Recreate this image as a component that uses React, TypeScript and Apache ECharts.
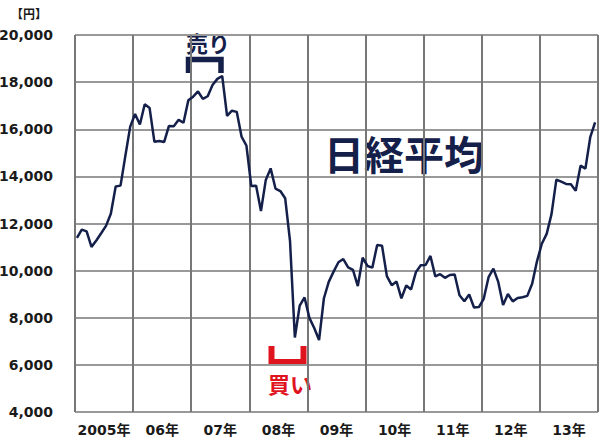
import React, { useRef, useEffect } from 'react';
import * as echarts from 'echarts';

// Year columns along the bottom
const YEAR_LABELS = ['2005年', '06年', '07年', '08年', '09年', '10年', '11年', '12年', '13年'];

// Nikkei 225, monthly, Jan 2005 .. Dec 2013
const NIKKEI_2005 = [11388, 11740, 11668, 11008, 11276, 11584, 11899, 12413, 13574, 13607, 14872, 16111];
const NIKKEI_2006 = [16650, 16205, 17060, 16906, 15467, 15505, 15457, 16141, 16128, 16399, 16274, 17226];
const NIKKEI_2007 = [17383, 17604, 17288, 17400, 17876, 18138, 18261, 16569, 16786, 16738, 15681, 15308];
const NIKKEI_2008 = [13592, 13604, 12526, 13850, 14339, 13482, 13377, 13073, 11260, 7162, 8512, 8860];
const NIKKEI_2009 = [7994, 7568, 7054, 8828, 9523, 9958, 10357, 10493, 10133, 10035, 9346, 10546];
const NIKKEI_2010 = [10198, 10126, 11090, 11057, 9769, 9383, 9537, 8824, 9369, 9202, 9937, 10229];
const NIKKEI_2011 = [10238, 10624, 9755, 9850, 9694, 9816, 9833, 8955, 8700, 8988, 8434, 8455];
const NIKKEI_2012 = [8803, 9723, 10084, 9521, 8543, 9007, 8695, 8840, 8870, 8928, 9446, 10395];
const NIKKEI_2013 = [11139, 11559, 12398, 13861, 13775, 13677, 13668, 13389, 14456, 14328, 15662, 16291];

const NIKKEI = [
  ...NIKKEI_2005, ...NIKKEI_2006, ...NIKKEI_2007,
  ...NIKKEI_2008, ...NIKKEI_2009, ...NIKKEI_2010,
  ...NIKKEI_2011, ...NIKKEI_2012, ...NIKKEI_2013,
];

const NAVY = '#14204a';
const RED = '#e0141e';
const GRID_GRAY = '#999999';
const VGRID_GRAY = '#777777';
const FONT = '"Noto Sans CJK JP", "Noto Sans", sans-serif';
const LABEL_FONT = '"DejaVu Sans", "Noto Sans CJK JP", sans-serif';

const App: React.FC = () => {
  const chartRef = useRef<HTMLDivElement>(null);

  useEffect(() => {
    if (!chartRef.current) return;
    const chart = echarts.init(chartRef.current, undefined, { renderer: 'svg' });

    // x in months since Jan 2005, plotted a bit inside each month slot
    const lineData = NIKKEI.map((v, i) => [i + 0.4, v]);

    const option: echarts.EChartsOption = {
      animation: false,
      backgroundColor: '#ffffff',
      textStyle: { fontFamily: FONT },
      grid: { left: 75, right: 2, top: 35, bottom: 29, outerBoundsMode: 'none' } as any,
      xAxis: [
        {
          // months since Jan 2005; split lines on year boundaries
          type: 'value',
          min: 0,
          max: 108,
          interval: 12,
          axisLabel: { show: false },
          axisTick: { show: false },
          axisLine: { show: false },
          splitLine: { show: true, lineStyle: { color: VGRID_GRAY, width: 2 } },
        },
        {
          // year columns, labels centred in each
          type: 'category',
          data: YEAR_LABELS,
          position: 'bottom',
          boundaryGap: true,
          axisLine: { show: false },
          axisTick: { show: false },
          splitLine: { show: false },
          axisLabel: {
            interval: 0,
            color: '#1a1a1a',
            fontWeight: 'bold',
            fontSize: 14,
            fontFamily: LABEL_FONT,
            margin: 11,
          },
        },
      ],
      yAxis: {
        type: 'value',
        min: 4000,
        max: 20000,
        interval: 2000,
        axisLine: { show: false },
        axisTick: { show: false },
        splitLine: { show: true, lineStyle: { color: GRID_GRAY, width: 1.8 } },
        axisLabel: {
          color: '#1a1a1a',
          fontWeight: 'bold',
          fontSize: 14,
          fontFamily: LABEL_FONT,
          margin: 22,
          formatter: (v: number) => v.toLocaleString('en-US'),
        },
      },
      series: [
        {
          type: 'line',
          xAxisIndex: 0,
          data: lineData,
          showSymbol: false,
          symbol: 'none',
          lineStyle: { color: NAVY, width: 2.5 },
          z: 5,
        },
      ],
      graphic: [
        {
          type: 'text',
          x: 29,
          y: 13,
          style: {
            text: '【円】',
            font: `bold 12px ${FONT}`,
            fill: '#1a1a1a',
            textAlign: 'center',
            textVerticalAlign: 'middle',
          },
        },
        {
          type: 'text',
          x: 208,
          y: 42,
          style: {
            text: '売り',
            font: `bold 22px ${FONT}`,
            fill: NAVY,
            textAlign: 'center',
            textVerticalAlign: 'middle',
          },
        },
        {
          type: 'polyline',
          shape: { points: [[188.5, 73], [188.5, 59.5], [221, 59.5], [221, 73]] },
          style: { stroke: NAVY, lineWidth: 5.5, fill: 'none' },
        },
        {
          type: 'polyline',
          shape: { points: [[271.5, 346], [271.5, 362], [303.5, 362], [303.5, 346]] },
          style: { stroke: RED, lineWidth: 6, fill: 'none' },
        },
        {
          type: 'text',
          x: 290,
          y: 383,
          style: {
            text: '買い',
            font: `bold 22px ${FONT}`,
            fill: RED,
            textAlign: 'center',
            textVerticalAlign: 'middle',
          },
        },
        {
          type: 'text',
          x: 404,
          y: 153,
          style: {
            text: '日経平均',
            font: `bold 40px ${FONT}`,
            fill: NAVY,
            textAlign: 'center',
            textVerticalAlign: 'middle',
          },
        },
      ],
    };

    chart.setOption(option);

    return () => {
      chart.dispose();
    };
  }, []);

  return (
    <div
      ref={chartRef}
      style={{ position: 'absolute', left: 0, top: 0, width: 600, height: 441 }}
    />
  );
};

export default App;
